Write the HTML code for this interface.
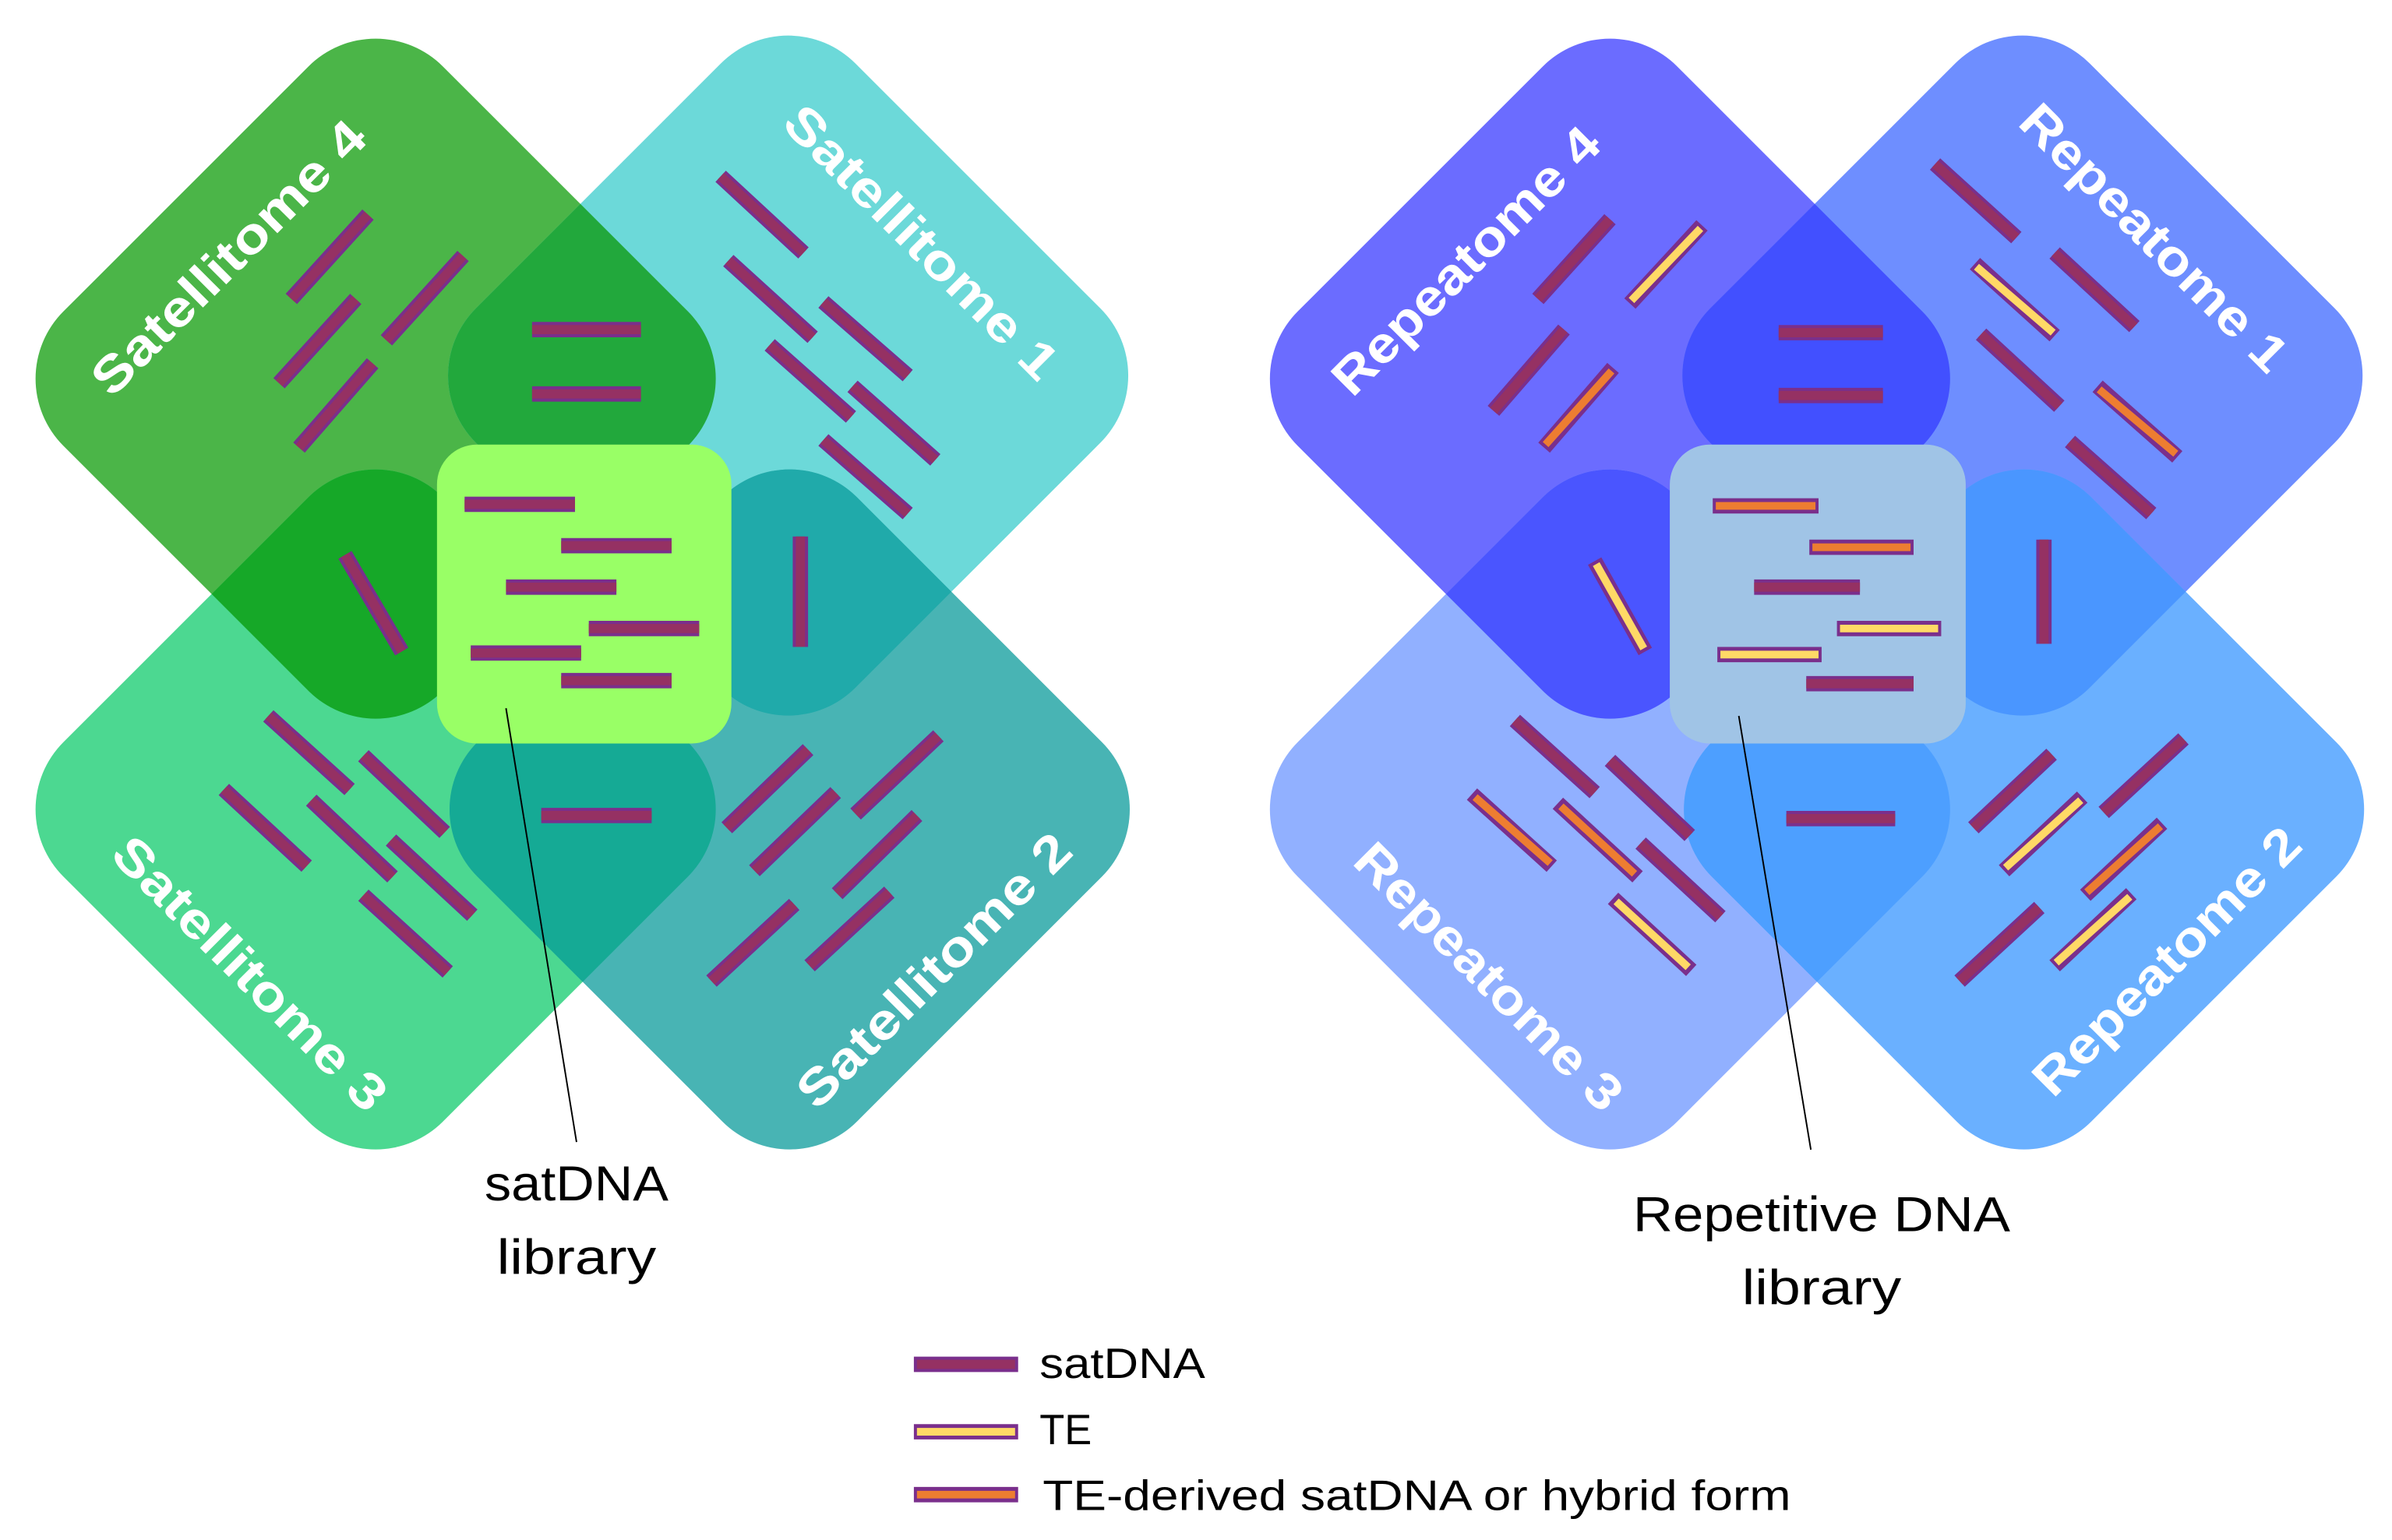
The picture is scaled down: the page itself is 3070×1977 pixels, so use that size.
<!DOCTYPE html>
<html><head><meta charset="utf-8"><style>html,body{margin:0;padding:0;background:#fff}svg{display:block}</style></head><body>
<svg xmlns="http://www.w3.org/2000/svg" width="3070" height="1977" viewBox="0 0 1560 1004.6">
<defs>
<clipPath id="c4"><rect x="-175" y="-175" width="350" height="350" rx="62" transform="translate(245,247) rotate(45)"/></clipPath>
<clipPath id="c1"><rect x="-175" y="-175" width="350" height="350" rx="62" transform="translate(514,245) rotate(45)"/></clipPath>
<clipPath id="c3"><rect x="-175" y="-175" width="350" height="350" rx="62" transform="translate(245,528) rotate(45)"/></clipPath>
<clipPath id="c2"><rect x="-175" y="-175" width="350" height="350" rx="62" transform="translate(515,528) rotate(45)"/></clipPath>
<clipPath id="r4"><rect x="-175" y="-175" width="350" height="350" rx="62" transform="translate(1050,247) rotate(45)"/></clipPath>
<clipPath id="r1"><rect x="-175" y="-175" width="350" height="350" rx="62" transform="translate(1319,245) rotate(45)"/></clipPath>
<clipPath id="r3"><rect x="-175" y="-175" width="350" height="350" rx="62" transform="translate(1050,528) rotate(45)"/></clipPath>
<clipPath id="r2"><rect x="-175" y="-175" width="350" height="350" rx="62" transform="translate(1320,528) rotate(45)"/></clipPath>
</defs>
<!-- LEFT -->
<rect x="-175" y="-175" width="350" height="350" rx="62" transform="translate(245,247) rotate(45)" fill="#4bb548"/>
<rect x="-175" y="-175" width="350" height="350" rx="62" transform="translate(514,245) rotate(45)" fill="#6cd9d9"/>
<rect x="-175" y="-175" width="350" height="350" rx="62" transform="translate(245,528) rotate(45)" fill="#4cd891"/>
<rect x="-175" y="-175" width="350" height="350" rx="62" transform="translate(515,528) rotate(45)" fill="#48b4b4"/>
<g clip-path="url(#c4)"><rect x="-175" y="-175" width="350" height="350" rx="62" transform="translate(514,245) rotate(45)" fill="#22a83c"/></g>
<g clip-path="url(#c4)"><rect x="-175" y="-175" width="350" height="350" rx="62" transform="translate(245,528) rotate(45)" fill="#16a828"/></g>
<g clip-path="url(#c1)"><rect x="-175" y="-175" width="350" height="350" rx="62" transform="translate(515,528) rotate(45)" fill="#20aaaa"/></g>
<g clip-path="url(#c3)"><rect x="-175" y="-175" width="350" height="350" rx="62" transform="translate(515,528) rotate(45)" fill="#15aa95"/></g>
<rect x="285" y="290" width="192" height="195" rx="26" fill="#99ff66"/>
<!-- RIGHT -->
<rect x="-175" y="-175" width="350" height="350" rx="62" transform="translate(1050,247) rotate(45)" fill="#6b6cff"/>
<rect x="-175" y="-175" width="350" height="350" rx="62" transform="translate(1319,245) rotate(45)" fill="#6e8eff"/>
<rect x="-175" y="-175" width="350" height="350" rx="62" transform="translate(1050,528) rotate(45)" fill="#91b0ff"/>
<rect x="-175" y="-175" width="350" height="350" rx="62" transform="translate(1320,528) rotate(45)" fill="#6ab0ff"/>
<g clip-path="url(#r4)"><rect x="-175" y="-175" width="350" height="350" rx="62" transform="translate(1319,245) rotate(45)" fill="#4250ff"/></g>
<g clip-path="url(#r4)"><rect x="-175" y="-175" width="350" height="350" rx="62" transform="translate(1050,528) rotate(45)" fill="#4a55ff"/></g>
<g clip-path="url(#r1)"><rect x="-175" y="-175" width="350" height="350" rx="62" transform="translate(1320,528) rotate(45)" fill="#4a96ff"/></g>
<g clip-path="url(#r3)"><rect x="-175" y="-175" width="350" height="350" rx="62" transform="translate(1320,528) rotate(45)" fill="#4d9fff"/></g>
<rect x="1089" y="290" width="193" height="195" rx="26" fill="#a0c4e6"/>

<!-- purple bars -->
<g stroke="#7a2f8c" stroke-width="10" fill="none">
<path d="M190,195L240,140M182,250L232,195M252,222L302,167M195,292L243,237M347,215L418,215M347,257L418,257M470,115L524,165M475,170L530,220M537,197L592,245M502,225L555,272M556,252L610,300M537,287L592,335M225,362L262,425M303,329L375,329M366,356L438,356M330,383L402,383M384,410L456,410M307,426L379,426M366,444L438,444M522,350L522,422M175,467L228,515M237,493L290,543M146,515L200,565M203,522L256,572M255,548L308,597M237,584L292,634M353,532L425,532M474,540L527,489M492,568L545,517M558,531L612,480M546,583L598,532M464,640L518,590M528,630L580,582"/>
<path d="M1003,195L1050,143M974,268L1020,215M1160,217L1228,217M1160,258L1228,258M1262,107L1315,155M1340,165L1392,213M1292,218L1343,265M1350,288L1403,335M1144,383L1213,383M1178,446L1248,446M1333,352L1333,420M1165,534L1236,534M988,470L1040,517M1050,496L1102,545M1070,550L1122,598M1287,540L1338,492M1372,530L1424,482M1278,640L1330,592"/>
<path d="M1063,198L1110,147M1007,292L1052,240M1288,172L1340,219M1368,252L1420,298M1040,366L1073,425M1117,330L1186,330M1180,357L1248,357M1198,410L1266,410M1120,427L1188,427M960,518L1012,565M1016,524L1068,572M1052,586L1103,633M1307,568L1358,520M1360,584L1410,537M1340,630L1390,583"/>
<path d="M596,890L664,890M596,934L664,934M596,975L664,975"/>
</g>
<g stroke="#953163" stroke-width="6" fill="none">
<path d="M190,195L240,140M182,250L232,195M252,222L302,167M195,292L243,237M347,215L418,215M347,257L418,257M470,115L524,165M475,170L530,220M537,197L592,245M502,225L555,272M556,252L610,300M537,287L592,335M225,362L262,425M303,329L375,329M366,356L438,356M330,383L402,383M384,410L456,410M307,426L379,426M366,444L438,444M522,350L522,422M175,467L228,515M237,493L290,543M146,515L200,565M203,522L256,572M255,548L308,597M237,584L292,634M353,532L425,532M474,540L527,489M492,568L545,517M558,531L612,480M546,583L598,532M464,640L518,590M528,630L580,582"/>
<path d="M1003,195L1050,143M974,268L1020,215M1160,217L1228,217M1160,258L1228,258M1262,107L1315,155M1340,165L1392,213M1292,218L1343,265M1350,288L1403,335M1144,383L1213,383M1178,446L1248,446M1333,352L1333,420M1165,534L1236,534M988,470L1040,517M1050,496L1102,545M1070,550L1122,598M1287,540L1338,492M1372,530L1424,482M1278,640L1330,592"/>
<path d="M598,890L662,890"/>
</g>
<g stroke="#ffd966" stroke-width="5" fill="none">
<path d="M1064,196L1109,149M1289,174L1339,217M1041,368L1072,423M1200,410L1264,410M1122,427L1186,427M1054,588L1101,631M1308,566L1357,522M1341,628L1389,585M598,934L662,934"/>
</g>
<g stroke="#ed7d31" stroke-width="5" fill="none">
<path d="M1008,290L1051,242M1369,254L1419,296M1119,330L1184,330M1182,357L1246,357M962,520L1011,563M1018,526L1066,570M1361,582L1409,539M598,975L662,975"/>
</g>

<!-- leader lines -->
<path d="M330,462L376,745M1134,467L1181,750" stroke="#000" stroke-width="1" fill="none"/>

<!-- shape labels -->
<g font-family="Liberation Sans, sans-serif" font-weight="bold" font-size="33" fill="#fff" text-anchor="middle">
<text transform="translate(157,176) rotate(-45)" textLength="238" lengthAdjust="spacingAndGlyphs">Satellitome 4</text>
<text transform="translate(593,166) rotate(45)" textLength="238" lengthAdjust="spacingAndGlyphs">Satellitome 1</text>
<text transform="translate(155,643) rotate(45)" textLength="238" lengthAdjust="spacingAndGlyphs">Satellitome 3</text>
<text transform="translate(617,641) rotate(-45)" textLength="238" lengthAdjust="spacingAndGlyphs">Satellitome 2</text>
<text transform="translate(964,178) rotate(-45)" textLength="232" lengthAdjust="spacingAndGlyphs">Repeatome 4</text>
<text transform="translate(1397,163) rotate(45)" textLength="232" lengthAdjust="spacingAndGlyphs">Repeatome 1</text>
<text transform="translate(963,645) rotate(45)" textLength="232" lengthAdjust="spacingAndGlyphs">Repeatome 3</text>
<text transform="translate(1421,635) rotate(-45)" textLength="232" lengthAdjust="spacingAndGlyphs">Repeatome 2</text>
</g>

<!-- captions -->
<g font-family="Liberation Sans, sans-serif" font-size="32" fill="#000" text-anchor="middle">
<text x="376" y="783" textLength="120" lengthAdjust="spacingAndGlyphs">satDNA</text>
<text x="376" y="831" textLength="104" lengthAdjust="spacingAndGlyphs">library</text>
<text x="1188" y="803" textLength="246" lengthAdjust="spacingAndGlyphs">Repetitive DNA</text>
<text x="1188" y="851" textLength="104" lengthAdjust="spacingAndGlyphs">library</text>
</g>
<g font-family="Liberation Sans, sans-serif" font-size="28" fill="#000">
<text x="678" y="899" textLength="108" lengthAdjust="spacingAndGlyphs">satDNA</text>
<text x="678" y="942" textLength="34" lengthAdjust="spacingAndGlyphs">TE</text>
<text x="680" y="985" textLength="488" lengthAdjust="spacingAndGlyphs">TE-derived satDNA or hybrid form</text>
</g>
</svg>
</body></html>
